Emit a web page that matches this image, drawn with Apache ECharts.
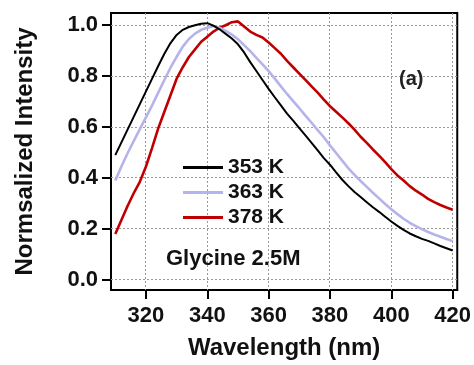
<!DOCTYPE html>
<html>
<head>
<meta charset="utf-8">
<script src="https://cdn.jsdelivr.net/npm/echarts@6/dist/echarts.min.js"></script>
<style>
  html, body { margin: 0; padding: 0; background: #fff; }
  #chart { width: 474px; height: 365px; }
</style>
</head>
<body>
<div id="chart"></div>
<script>
// Emission wavelength grid (nm)
const wavelengths = [
  310, 312, 314, 316, 318, 320, 322, 324, 326, 328,
  330, 332, 334, 336, 338, 340, 342, 344, 346, 348,
  350, 352, 354, 356, 358, 360, 362, 364, 366, 368,
  370, 372, 374, 376, 378, 380, 382, 384, 386, 388,
  390, 392, 394, 396, 398, 400, 402, 404, 406, 408,
  410, 412, 414, 416, 418, 420
];

// Normalized fluorescence intensity, 353 K
const intensity353 = [
  0.490, 0.540, 0.590, 0.640, 0.690, 0.740, 0.790, 0.840, 0.888, 0.930,
  0.962, 0.982, 0.993, 1.000, 1.006, 1.008, 0.998, 0.984, 0.966, 0.948,
  0.925, 0.893, 0.855, 0.820, 0.785, 0.750, 0.717, 0.685, 0.653, 0.625,
  0.596, 0.567, 0.538, 0.508, 0.478, 0.452, 0.422, 0.393, 0.368, 0.345,
  0.325, 0.305, 0.285, 0.267, 0.248, 0.229, 0.212, 0.196, 0.182, 0.171,
  0.161, 0.153, 0.143, 0.133, 0.124, 0.115
];

// Normalized fluorescence intensity, 363 K
const intensity363 = [
  0.390, 0.445, 0.497, 0.545, 0.592, 0.638, 0.685, 0.735, 0.785, 0.833,
  0.876, 0.916, 0.946, 0.967, 0.982, 0.990, 0.997, 0.990, 0.978, 0.963,
  0.945, 0.922, 0.898, 0.872, 0.846, 0.820, 0.790, 0.760, 0.730, 0.702,
  0.674, 0.645, 0.617, 0.588, 0.560, 0.528, 0.498, 0.468, 0.438, 0.412,
  0.388, 0.365, 0.342, 0.320, 0.298, 0.277, 0.258, 0.240, 0.224, 0.211,
  0.199, 0.188, 0.178, 0.169, 0.160, 0.152
];

// Normalized fluorescence intensity, 378 K
const intensity378 = [
  0.180, 0.235, 0.290, 0.340, 0.385, 0.445, 0.518, 0.595, 0.660, 0.725,
  0.790, 0.835, 0.875, 0.905, 0.935, 0.955, 0.975, 0.990, 1.000, 1.012,
  1.015, 0.995, 0.975, 0.962, 0.952, 0.932, 0.910, 0.888, 0.860, 0.835,
  0.810, 0.785, 0.760, 0.735, 0.708, 0.682, 0.660, 0.638, 0.615, 0.590,
  0.562, 0.538, 0.512, 0.488, 0.462, 0.435, 0.410, 0.390, 0.368, 0.350,
  0.335, 0.318, 0.305, 0.294, 0.284, 0.275
];

const seriesNames = ['353 K', '363 K', '378 K'];
const xTicks = [320, 340, 360, 380, 400, 420];
const yTicks = [0.0, 0.2, 0.4, 0.6, 0.8, 1.0];

// Axis extents
const X_MIN = 308.6, X_MAX = 421.5;
const Y_MIN = -0.04, Y_MAX = 1.048;

const pair = (ys) => wavelengths.map((x, i) => [x, ys[i]]);

const FONT = 'Liberation Sans, Arial, sans-serif';
const chart = echarts.init(document.getElementById('chart'), null, { renderer: 'canvas' });

const axisCommon = {
  type: 'value',
  axisLine: { show: true, onZero: false, lineStyle: { color: '#000', width: 2 } },
  axisTick: { show: true, inside: false, length: 9, lineStyle: { color: '#000', width: 2 } },
  splitLine: { show: false },
  nameTextStyle: { fontFamily: FONT, fontWeight: 'bold', fontSize: 24, color: '#111' }
};

const baseGraphic = [
  { id: 'tag', type: 'text', left: 399, top: 69, z: 10,
    style: { text: '(a)', fontFamily: FONT, fontWeight: 'bold', fontSize: 20, fill: '#222' } },
  { id: 'sample', type: 'text', left: 166, top: 248, z: 10,
    style: { text: 'Glycine 2.5M', fontFamily: FONT, fontWeight: 'bold', fontSize: 22, fill: '#111' } }
];

chart.setOption({
  animation: false,
  backgroundColor: '#fff',
  grid: {
    left: 111, top: 13, right: 15, bottom: 72,
    show: true, borderColor: '#000', borderWidth: 2, backgroundColor: 'transparent'
  },
  legend: {
    orient: 'vertical',
    left: 178, top: 152,
    itemWidth: 40, itemHeight: 3, itemGap: 4,
    icon: 'rect',
    textStyle: { fontFamily: FONT, fontWeight: 'bold', fontSize: 21, color: '#111', lineHeight: 21 },
    data: seriesNames
  },
  xAxis: Object.assign({}, axisCommon, {
    min: X_MIN, max: X_MAX,
    name: 'Wavelength (nm)', nameLocation: 'middle', nameGap: 46,
    axisTick: Object.assign({}, axisCommon.axisTick, { customValues: xTicks }),
    axisLabel: {
      customValues: xTicks, margin: 15,
      fontFamily: FONT, fontWeight: 'bold', fontSize: 22, color: '#111',
      formatter: (v) => String(Math.round(v))
    }
  }),
  yAxis: Object.assign({}, axisCommon, {
    min: Y_MIN, max: Y_MAX,
    name: 'Normsalized Intensity', nameLocation: 'middle', nameGap: 74,
    axisTick: Object.assign({}, axisCommon.axisTick, { customValues: yTicks }),
    axisLabel: {
      customValues: yTicks, margin: 13,
      fontFamily: FONT, fontWeight: 'bold', fontSize: 22, color: '#111',
      formatter: (v) => v.toFixed(1)
    }
  }),
  series: [
    { name: seriesNames[0], type: 'line', data: pair(intensity353), showSymbol: false,
      lineStyle: { color: '#000', width: 2 }, itemStyle: { color: '#000' }, z: 4 },
    { name: seriesNames[1], type: 'line', data: pair(intensity363), showSymbol: false,
      lineStyle: { color: '#b4b4ea', width: 2.6 }, itemStyle: { color: '#b4b4ea' }, z: 3 },
    { name: seriesNames[2], type: 'line', data: pair(intensity378), showSymbol: false,
      lineStyle: { color: '#c00000', width: 2.6 }, itemStyle: { color: '#c00000' }, z: 2 }
  ],
  graphic: baseGraphic
});

// Dotted grid lines at each labelled tick, positioned through the axis scales
const crisp = (p) => Math.round(p - 0.5) + 0.5;
const xLo = chart.convertToPixel({ xAxisIndex: 0 }, X_MIN);
const xHi = chart.convertToPixel({ xAxisIndex: 0 }, X_MAX);
const yLo = chart.convertToPixel({ yAxisIndex: 0 }, Y_MIN);
const yHi = chart.convertToPixel({ yAxisIndex: 0 }, Y_MAX);
const gridStyle = { stroke: '#999999', lineWidth: 1, lineDash: [2, 2] };
const gridGraphic = []
  .concat(xTicks.map((v) => {
    const px = crisp(chart.convertToPixel({ xAxisIndex: 0 }, v));
    return { type: 'line', silent: true, z: 1, shape: { x1: px, y1: yHi, x2: px, y2: yLo }, style: gridStyle };
  }))
  .concat(yTicks.map((v) => {
    const py = crisp(chart.convertToPixel({ yAxisIndex: 0 }, v));
    return { type: 'line', silent: true, z: 1, shape: { x1: xLo, y1: py, x2: xHi, y2: py }, style: gridStyle };
  }));

chart.setOption({ graphic: baseGraphic.concat(gridGraphic) }, { replaceMerge: ['graphic'] });
</script>
</body>
</html>
